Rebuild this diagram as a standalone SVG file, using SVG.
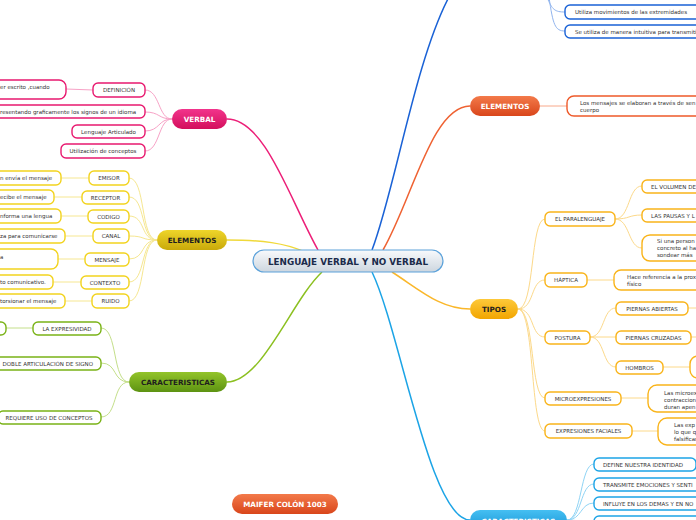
<svg xmlns="http://www.w3.org/2000/svg" width="696" height="520" viewBox="0 0 696 520">
<defs>
<linearGradient id="gC" x1="0" y1="0" x2="0" y2="1"><stop offset="0" stop-color="#f8fafc"/><stop offset="1" stop-color="#cdd6df"/></linearGradient>
<linearGradient id="gPink" x1="0" y1="0" x2="0" y2="1"><stop offset="0" stop-color="#f2348c"/><stop offset="1" stop-color="#d30f5c"/></linearGradient>
<linearGradient id="gYel" x1="0" y1="0" x2="0" y2="1"><stop offset="0" stop-color="#eed52a"/><stop offset="1" stop-color="#c9a90a"/></linearGradient>
<linearGradient id="gGrn" x1="0" y1="0" x2="0" y2="1"><stop offset="0" stop-color="#93c42a"/><stop offset="1" stop-color="#5d9312"/></linearGradient>
<linearGradient id="gOr" x1="0" y1="0" x2="0" y2="1"><stop offset="0" stop-color="#f37a4a"/><stop offset="1" stop-color="#d9461b"/></linearGradient>
<linearGradient id="gAmb" x1="0" y1="0" x2="0" y2="1"><stop offset="0" stop-color="#fdc93a"/><stop offset="1" stop-color="#f2a500"/></linearGradient>
<linearGradient id="gLb" x1="0" y1="0" x2="0" y2="1"><stop offset="0" stop-color="#45bff2"/><stop offset="1" stop-color="#1592d4"/></linearGradient>
</defs>
<style>
text{font-family:"DejaVu Sans","Liberation Sans",sans-serif;}
.t{font-size:5.5px;fill:#333;}
.tc{font-size:5.5px;fill:#333;text-anchor:middle;}
.h{font-size:7.2px;font-weight:bold;text-anchor:middle;}
.w{fill:#fff;}
.d{fill:#1e1e1e;}
.b{fill:#fff;stroke-width:1.4;}
.pk{stroke:#e8196f;}
.yl{stroke:#f2d31e;}
.gr{stroke:#7ab317;}
.or{stroke:#ee5a2a;}
.am{stroke:#f9b41a;}
.bl{stroke:#1a62d6;}
.lb{stroke:#1ca4e6;}
.cpk{stroke:#f7a2c6;stroke-width:1;}
.cyl{stroke:#f6e791;stroke-width:1;}
.cgr{stroke:#c4df8a;stroke-width:1;}
.cor{stroke:#f8a88a;stroke-width:1;}
.cam{stroke:#fcd98a;stroke-width:1;}
.cbl{stroke:#90b4ee;stroke-width:1;}
.clb{stroke:#8fd4f5;stroke-width:1;}
</style>
<rect width="696" height="520" fill="#fff"/>
<g id="connectors" fill="none">
<path d="M227,119 C265,119 290,200 318,250" stroke="#ec1f78" stroke-width="1.5"/>
<path d="M227,240 C262,240 285,243 305,252" stroke="#f0d93a" stroke-width="1.5"/>
<path d="M227,382 C262,382 292,300 322,272" stroke="#8cc021" stroke-width="1.5"/>
<path d="M372,250 C395,190 415,60 450,-5" stroke="#1a62d6" stroke-width="1.5"/>
<path d="M383,250 C412,200 432,106 470,106" stroke="#ef6232" stroke-width="1.5"/>
<path d="M392,272 C420,290 440,309 470,309" stroke="#fab72a" stroke-width="1.5"/>
<path d="M372,272 C400,330 430,520 470,520" stroke="#1ca4e6" stroke-width="1.5"/>
<g class="cpk">
<path d="M172,119 C158,119 160,90 145,90"/><path d="M172,119 C158,119 160,112 145,112"/><path d="M172,119 C158,119 160,131 145,131"/><path d="M172,119 C158,119 160,151 145,151"/><path d="M66,89 L93,90"/>
</g>
<g class="cyl">
<path d="M157,240 C140,240 146,178 129,178"/><path d="M157,240 C140,240 146,197 129,197"/><path d="M157,240 C140,240 146,216 129,216"/><path d="M157,240 C140,240 146,236 129,236"/><path d="M157,240 C140,240 146,259 129,259"/><path d="M157,240 C140,240 146,282 129,282"/><path d="M157,240 C140,240 146,301 129,301"/>
<path d="M61,178 H89"/><path d="M54,197 H82"/><path d="M61,216 H88"/><path d="M65,236 H93"/><path d="M58,259 H85"/><path d="M53,282 H81"/><path d="M65,301 H92"/>
</g>
<g class="cgr">
<path d="M129,382 C112,382 118,328 101,328"/><path d="M129,382 C112,382 118,363 101,363"/><path d="M129,382 C112,382 118,417 101,417"/><path d="M6,328 H33"/>
</g>
<g class="cor"><path d="M540,106 H567"/></g>
<g class="cbl"><path d="M547,-3 C552,10 555,12 565,12"/><path d="M549,-3 C553,25 555,31 565,31"/></g>
<g class="cam">
<path d="M518,309 C535,309 530,219 545,219"/><path d="M518,309 C535,309 530,280 545,280"/><path d="M518,309 C535,309 530,337 545,337"/><path d="M518,309 C535,309 530,398 545,398"/><path d="M518,309 C535,309 530,431 545,431"/>
<path d="M615,219 C630,219 628,186 642,186"/><path d="M615,219 C630,219 628,215 642,215"/><path d="M615,219 C630,219 628,248 642,248"/>
<path d="M590,337 C605,337 602,308 616,308"/><path d="M590,337 H616"/><path d="M590,337 C605,337 602,367 616,367"/>
<path d="M587,280 H614"/><path d="M621,398 H648"/><path d="M632,431 H658"/><path d="M663,367 H690"/><path d="M688,308 H696"/><path d="M691,337 H696"/>
</g>
<g class="clb">
<path d="M567,520 C582,520 580,464 594,464"/><path d="M567,520 C582,520 580,484 594,484"/><path d="M567,520 C582,520 580,503 594,503"/><path d="M567,520 C582,520 580,523 594,523"/>
</g>
</g>
<g id="center">
<rect x="253" y="250" width="190" height="22" rx="11" fill="url(#gC)" stroke="#5ca2da" stroke-width="1.2"/>
<text x="348" y="264.5" font-size="8.8" font-weight="bold" text-anchor="middle" fill="#1b2b4b">LENGUAJE VERBAL Y NO VERBAL</text>
</g>
<g id="verbal">
<rect x="172" y="109" width="55" height="20" rx="10" fill="url(#gPink)"/>
<text class="h w" x="199.5" y="121.5">VERBAL</text>
</g>
<g id="verbal-children">
<g id="v-def"><rect class="b pk" x="93" y="83" width="52" height="14" rx="5"/><text class="tc" x="119" y="92">DEFINICIÓN</text></g>
<g id="v-def-txt"><rect class="b pk" x="-12" y="80" width="78" height="19" rx="7"/><text class="t" x="0" y="89">er escrito ,cuando</text></g>
<g id="v-rep"><rect class="b pk" x="-12" y="105" width="157" height="13" rx="5"/><text class="t" x="0" y="113.5">resentando graficamente los signos de un idioma</text></g>
<g id="v-art"><rect class="b pk" x="72" y="125" width="73" height="13" rx="5"/><text class="tc" x="108.5" y="133.5">Lenguaje Articulado</text></g>
<g id="v-con"><rect class="b pk" x="61" y="144" width="84" height="14" rx="5"/><text class="tc" x="103" y="153">Utilización de conceptos</text></g>
</g>
<g id="elementos-v">
<rect x="157" y="230" width="70" height="20" rx="10" fill="url(#gYel)"/>
<text class="h d" x="192" y="242.5">ELEMENTOS</text>
</g>
<g id="elementos-v-children">
<g id="e-emi"><rect class="b yl" x="89" y="171" width="40" height="14" rx="5"/><text class="tc" x="109" y="180">EMISOR</text><rect class="b yl" x="-12" y="171" width="73" height="14" rx="5"/><text class="t" x="0" y="180">n envía el mensaje</text></g>
<g id="e-rec"><rect class="b yl" x="82" y="191" width="47" height="13" rx="5"/><text class="tc" x="105.5" y="199.5">RECEPTOR</text><rect class="b yl" x="-12" y="190" width="66" height="14" rx="5"/><text class="t" x="0" y="199">ecibe el mensaje</text></g>
<g id="e-cod"><rect class="b yl" x="88" y="210" width="41" height="13" rx="5"/><text class="tc" x="108.5" y="218.5">CODIGO</text><rect class="b yl" x="-12" y="209" width="73" height="14" rx="5"/><text class="t" x="0" y="218">nforma una lengua</text></g>
<g id="e-can"><rect class="b yl" x="93" y="229" width="36" height="14" rx="5"/><text class="tc" x="111" y="238">CANAL</text><rect class="b yl" x="-12" y="229" width="77" height="14" rx="5"/><text class="t" x="0" y="238">za para comunicarse</text></g>
<g id="e-men"><rect class="b yl" x="85" y="253" width="44" height="13" rx="5"/><text class="tc" x="107" y="261.5">MENSAJE</text><rect class="b yl" x="-12" y="249" width="70" height="20" rx="7"/><text class="t" x="0" y="258.5">a</text></g>
<g id="e-ctx"><rect class="b yl" x="81" y="276" width="48" height="13" rx="5"/><text class="tc" x="105" y="284.5">CONTEXTO</text><rect class="b yl" x="-12" y="275" width="65" height="14" rx="5"/><text class="t" x="0" y="284">to comunicativo.</text></g>
<g id="e-rui"><rect class="b yl" x="92" y="294" width="37" height="14" rx="5"/><text class="tc" x="110.5" y="303">RUIDO</text><rect class="b yl" x="-12" y="294" width="77" height="14" rx="5"/><text class="t" x="0" y="303">torsionar el mensaje</text></g>
</g>
<g id="caracteristicas-v">
<rect x="129" y="372" width="98" height="20" rx="10" fill="url(#gGrn)"/>
<text class="h d" x="178" y="384.5">CARACTERISTICAS</text>
</g>
<g id="caracteristicas-v-children">
<g id="c-exp"><rect class="b gr" x="33" y="322" width="68" height="13" rx="5"/><text class="tc" x="67" y="330.5">LA EXPRESIVIDAD</text><rect class="b gr" x="-12" y="322" width="18" height="13" rx="5"/></g>
<g id="c-dob"><rect class="b gr" x="-12" y="357" width="113" height="13" rx="5"/><text class="t" x="93" y="365.5" text-anchor="end">DOBLE ARTICULACIÓN DE SIGNO</text></g>
<g id="c-req"><rect class="b gr" x="-2" y="411" width="103" height="13" rx="5"/><text class="tc" x="49" y="419.5">REQUIERE USO DE CONCEPTOS</text></g>
</g>
<g id="maifer">
<rect x="232" y="494" width="106" height="20" rx="10" fill="url(#gOr)"/>
<text class="h w" x="285" y="506.5">MAIFER COLÓN 1003</text>
</g>
<g id="top-children">
<g id="t-uti"><rect class="b bl" x="565" y="5" width="145" height="14" rx="5"/><text class="t" x="575" y="14">Utiliza movimientos de las extremidades</text></g>
<g id="t-se"><rect class="b bl" x="565" y="25" width="145" height="13" rx="5"/><text class="t" x="575" y="33.5">Se utiliza de manera intuitiva para transmiti</text></g>
</g>
<g id="elementos-nv">
<rect x="470" y="96" width="70" height="20" rx="10" fill="url(#gOr)"/>
<text class="h w" x="505" y="108.5">ELEMENTOS</text>
</g>
<g id="elementos-nv-child">
<rect class="b or" x="567" y="96" width="143" height="20" rx="7"/>
<text class="t" x="580" y="105">Los mensajes se elaboran a través de sen</text>
<text class="t" x="580" y="112">cuerpo</text>
</g>
<g id="tipos">
<rect x="470" y="299" width="48" height="20" rx="10" fill="url(#gAmb)"/>
<text class="h d" x="494" y="311.5">TIPOS</text>
</g>
<g id="tipos-children">
<g id="tp-para"><rect class="b am" x="545" y="212" width="70" height="14" rx="5"/><text class="tc" x="580" y="221">EL PARALENGUAJE</text></g>
<g id="tp-vol"><rect class="b am" x="642" y="180" width="78" height="13" rx="5"/><text class="t" x="651" y="188.5">EL VOLUMEN DE</text></g>
<g id="tp-pau"><rect class="b am" x="642" y="209" width="78" height="13" rx="5"/><text class="t" x="651" y="217.5">LAS PAUSAS Y L</text></g>
<g id="tp-si"><rect class="b am" x="642" y="235" width="78" height="26" rx="8"/><text class="t" x="657" y="243">Si una person</text><text class="t" x="657" y="250">concreto al ha</text><text class="t" x="657" y="257">sondear más</text></g>
<g id="tp-hap"><rect class="b am" x="545" y="273" width="42" height="14" rx="5"/><text class="tc" x="566" y="282">HÁPTICA</text></g>
<g id="tp-hace"><rect class="b am" x="614" y="270" width="106" height="20" rx="7"/><text class="t" x="627" y="279">Hace referencia a la prox</text><text class="t" x="627" y="286">físico</text></g>
<g id="tp-pos"><rect class="b am" x="545" y="331" width="45" height="13" rx="5"/><text class="tc" x="567.5" y="339.5">POSTURA</text></g>
<g id="tp-pab"><rect class="b am" x="616" y="302" width="72" height="13" rx="5"/><text class="tc" x="652" y="310.5">PIERNAS ABIERTAS</text></g>
<g id="tp-pcr"><rect class="b am" x="616" y="331" width="75" height="13" rx="5"/><text class="tc" x="653.5" y="339.5">PIERNAS CRUZADAS</text></g>
<g id="tp-hom"><rect class="b am" x="616" y="361" width="47" height="13" rx="5"/><text class="tc" x="639.5" y="369.5">HOMBROS</text><rect class="b am" x="690" y="356" width="40" height="22" rx="8"/></g>
<g id="tp-mic"><rect class="b am" x="545" y="392" width="76" height="13" rx="5"/><text class="tc" x="583" y="400.5">MICROEXPRESIONES</text></g>
<g id="tp-mic2"><rect class="b am" x="648" y="385" width="72" height="27" rx="9"/><text class="t" x="664" y="395">Las microex</text><text class="t" x="664" y="402">contraccion</text><text class="t" x="664" y="409">duran apen</text></g>
<g id="tp-exf"><rect class="b am" x="545" y="424" width="87" height="14" rx="5"/><text class="tc" x="588.5" y="433">EXPRESIONES FACIALES</text></g>
<g id="tp-exf2"><rect class="b am" x="658" y="418" width="62" height="27" rx="9"/><text class="t" x="674" y="427">Las exp</text><text class="t" x="674" y="434">lo que q</text><text class="t" x="674" y="441">falsifican</text></g>
</g>
<g id="caracteristicas-nv">
<rect x="470" y="510" width="97" height="22" rx="10" fill="url(#gLb)"/>
<text class="h w" x="518.5" y="524">CARACTERISTICAS</text>
</g>
<g id="caracteristicas-nv-children">
<g id="cn-def"><rect class="b lb" x="594" y="458" width="102" height="13" rx="5"/><text class="t" x="603" y="466.5">DEFINE NUESTRA IDENTIDAD</text></g>
<g id="cn-tra"><rect class="b lb" x="594" y="478" width="126" height="13" rx="5"/><text class="t" x="603" y="486.5">TRANSMITE EMOCIONES Y SENTI</text></g>
<g id="cn-inf"><rect class="b lb" x="594" y="497" width="126" height="13" rx="5"/><text class="t" x="603" y="505.5">INFLUYE EN LOS DEMAS Y EN NO</text></g>
<g id="cn-4"><rect class="b lb" x="594" y="516" width="126" height="14" rx="5"/></g>
</g>
</svg>
